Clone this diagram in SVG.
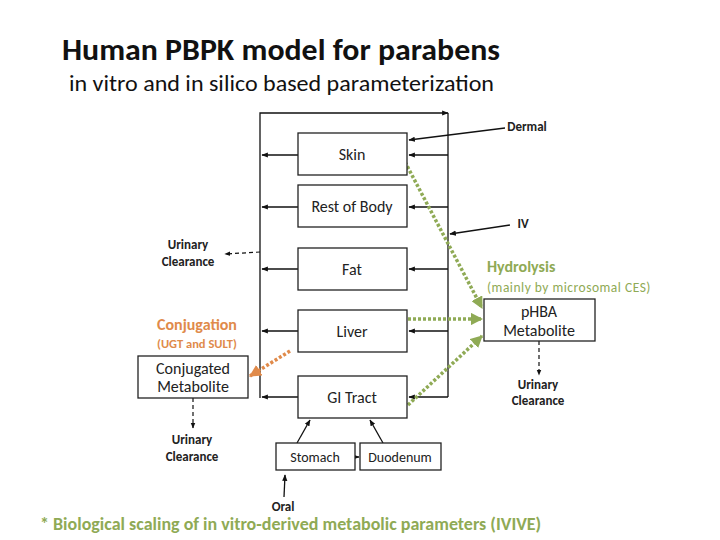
<svg xmlns="http://www.w3.org/2000/svg" width="720" height="540" viewBox="0 0 720 540">
<style>
text{font-family:"Liberation Sans",Arial,sans-serif}
.t{font-family:Calibri,Carlito,"Liberation Sans",sans-serif}
.box{fill:#fff;stroke:#222;stroke-width:1.3}
.l{stroke:#111;stroke-width:1.3;fill:none}
.d{stroke:#111;stroke-width:1.2;fill:none;stroke-dasharray:4 3}
.g{stroke:#8faa55;stroke-width:3.5;fill:none;stroke-dasharray:3 2}
.o{stroke:#e08a4a;stroke-width:3.5;fill:none;stroke-dasharray:3 2}
.lab{font-size:16px;fill:#222;text-anchor:middle}
.b{font-size:13px;font-weight:bold;fill:#222;text-anchor:middle}
</style>
<defs>
<marker id="a" viewBox="0 0 10 10" refX="9" refY="5" markerWidth="5" markerHeight="5" orient="auto"><path d="M0,1L10,5L0,9z" fill="#111"/></marker>
<marker id="ga" viewBox="0 0 10 10" refX="9" refY="5" markerWidth="3.5" markerHeight="3.5" orient="auto"><path d="M0,0L10,5L0,10z" fill="#8faa55"/></marker>
<marker id="oa" viewBox="0 0 10 10" refX="9" refY="5" markerWidth="3.5" markerHeight="3.5" orient="auto"><path d="M0,0L10,5L0,10z" fill="#e08a4a"/></marker>
</defs>
<text class="t" x="62" y="60" style="font-size:30px;font-weight:bold;fill:#111" textLength="438" lengthAdjust="spacingAndGlyphs">Human PBPK model for parabens</text>
<text class="t" x="69" y="91" style="font-size:23px;fill:#111" textLength="425" lengthAdjust="spacingAndGlyphs">in vitro and in silico based parameterization</text>
<g id="connectors">
<path class="l" d="M260,398V113H448" marker-end="url(#a)"/>
<path class="l" d="M448,113V397"/>
<path class="l" d="M298,155H262" marker-end="url(#a)"/>
<path class="l" d="M298,207H262" marker-end="url(#a)"/>
<path class="l" d="M298,269H262" marker-end="url(#a)"/>
<path class="l" d="M298,331H262" marker-end="url(#a)"/>
<path class="l" d="M298,397H262" marker-end="url(#a)"/>
<path class="l" d="M448,155H409" marker-end="url(#a)"/>
<path class="l" d="M448,207H409" marker-end="url(#a)"/>
<path class="l" d="M448,269H409" marker-end="url(#a)"/>
<path class="l" d="M448,331H409" marker-end="url(#a)"/>
<path class="l" d="M448,397H409" marker-end="url(#a)"/>
<path class="l" d="M505,128L409,140" marker-end="url(#a)"/>
<path class="l" d="M510,225L450,234" marker-end="url(#a)"/>
<path class="d" d="M260,252L225,254" marker-end="url(#a)"/>
<path class="d" d="M539,341V375" marker-end="url(#a)"/>
<path class="d" d="M193,398V428" marker-end="url(#a)"/>
<path class="l" d="M297,443L310,420" marker-end="url(#a)"/>
<path class="l" d="M383,443L370,420" marker-end="url(#a)"/>
<path class="l" d="M355,457H359" marker-end="url(#a)"/>
<path class="l" d="M284,497L285,475" marker-end="url(#a)"/>
<path class="g" d="M405,162L482,308" marker-end="url(#ga)"/>
<path class="g" d="M408,319H482" marker-end="url(#ga)"/>
<path class="g" d="M408,405L482,336" marker-end="url(#ga)"/>
<path class="o" d="M290,351L250,376" marker-end="url(#oa)"/>
</g>
<g id="skin"><rect class="box" x="298" y="133" width="109" height="42"/><text class="lab t" x="352" y="160">Skin</text></g>
<g id="rest"><rect class="box" x="298" y="185" width="109" height="42"/><text class="lab t" x="352" y="212">Rest of Body</text></g>
<g id="fat"><rect class="box" x="298" y="248" width="109" height="42"/><text class="lab t" x="352" y="275">Fat</text></g>
<g id="liver"><rect class="box" x="298" y="310" width="109" height="42"/><text class="lab t" x="352" y="337">Liver</text></g>
<g id="gi"><rect class="box" x="298" y="376" width="109" height="42"/><text class="lab t" x="352" y="403">GI Tract</text></g>
<g id="stomach"><rect class="box" x="276" y="443" width="79" height="27"/><text class="t" x="315" y="462" style="font-size:14px;text-anchor:middle;fill:#222">Stomach</text></g>
<g id="duodenum"><rect class="box" x="360" y="443" width="81" height="27"/><text class="t" x="400" y="462" style="font-size:14px;text-anchor:middle;fill:#222">Duodenum</text></g>
<g id="conj"><rect class="box" x="138" y="356" width="110" height="42"/><text class="lab t" x="193" y="374">Conjugated</text><text class="lab t" x="193" y="392">Metabolite</text></g>
<g id="phba"><rect class="box" x="484" y="299" width="111" height="42"/><text class="lab t" x="539" y="317">pHBA</text><text class="lab t" x="539" y="336">Metabolite</text></g>
<g id="labels">
<text class="b t" x="527" y="131">Dermal</text>
<text class="b t" x="523" y="228">IV</text>
<text class="b t" x="188" y="249">Urinary</text><text class="b t" x="188" y="266">Clearance</text>
<text class="b t" x="538" y="389">Urinary</text><text class="b t" x="538" y="405">Clearance</text>
<text class="b t" x="192" y="444">Urinary</text><text class="b t" x="192" y="461">Clearance</text>
<text class="b t" x="283" y="511">Oral</text>
<text class="t" x="487" y="272" style="font-size:16px;font-weight:bold;fill:#8faa55">Hydrolysis</text>
<text class="t" x="487" y="292" style="font-size:13.5px;fill:#8faa55;letter-spacing:0.5px">(mainly by microsomal CES)</text>
<text class="t" x="157" y="330" style="font-size:16px;font-weight:bold;fill:#e08a4a">Conjugation</text>
<text class="t" x="157" y="348" style="font-size:12.5px;font-weight:bold;fill:#e08a4a">(UGT and SULT)</text>
<text class="t" x="40" y="530" style="font-size:18px;font-weight:bold;fill:#8faa55">* Biological scaling of in vitro-derived metabolic parameters (IVIVE)</text>
</g>
</svg>
